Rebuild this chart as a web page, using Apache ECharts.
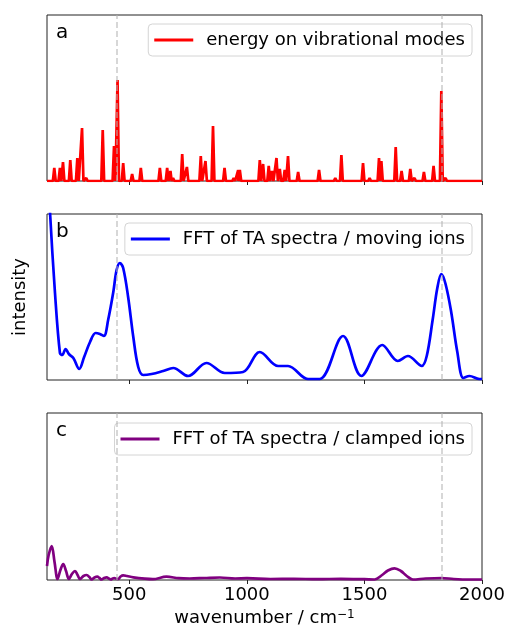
<!DOCTYPE html>
<html>
<head>
<meta charset="utf-8">
<script src="https://cdn.jsdelivr.net/npm/echarts@6/dist/echarts.min.js"></script>
<style>
  html, body { margin: 0; padding: 0; background: #fff; }
  #chart { width: 505px; height: 631px; }
</style>
</head>
<body>
<div id="chart"></div>
<script>
const xMin = 150;
const xMax = 2000;
const tickValues = [500, 1000, 1500, 2000];
const guideLines = [448, 1829];

// panel a: vibrational mode positions (cm-1) and heights
const modePos = [181, 205, 218, 249, 279, 299, 317, 387, 435, 450, 474, 512, 549,
  630, 661, 675, 686, 725, 745, 804, 824, 856, 905, 944, 963, 970,
  1055, 1069, 1093, 1107, 1126, 1140, 1161, 1175, 1218, 1307, 1376, 1402,
  1494, 1522, 1562, 1572, 1633, 1658, 1695, 1713, 1753, 1794, 1827, 1845];
const modeHeight = [13, 13, 19, 21, 23, 53, 3, 51, 35, 101, 18, 7, 13,
  13, 13, 10, 3, 27, 14, 25, 20, 55, 13, 3, 11, 11,
  21, 17, 15, 10, 23, 12, 11, 25, 9, 11, 3, 26,
  18, 3, 23, 20, 34, 10, 12, 3, 9, 15, 90, 3];

// panel b: FFT of TA spectra, moving ions
const movingX = [150, 163, 184, 205, 215, 229, 243, 262, 287, 308, 333, 357, 375, 392,
  410, 432, 446, 460, 474, 495, 517, 538, 559, 595, 644, 687, 750, 828, 906, 984,
  1055, 1133, 1175, 1260, 1310, 1409, 1487, 1576, 1642, 1685, 1744, 1765, 1790,
  1810, 1827, 1845, 1869, 1895, 1921, 1947, 1989, 2000];
const movingY = [230, 167, 87, 27, 25, 31, 26, 22, 11, 23, 38, 47, 46, 44,
  60, 88, 110, 117, 112, 83, 43, 13, 5, 6, 9, 12, 4, 17, 7, 8,
  28, 14, 14, 1, 1, 44, 4, 35, 19, 24, 14, 24, 60,
  92, 106, 96, 68, 28, 2, 4, 1, 1];

// panel c: FFT of TA spectra, clamped ions
const clampedX = [150, 157, 170, 182, 195, 207, 219, 231, 243, 256, 269, 280, 290, 305,
  319, 330, 340, 352, 364, 373, 382, 393, 404, 413, 422, 429, 436, 445, 453, 463,
  474, 490, 517, 566, 600, 658, 710, 757, 820, 885, 950, 1000, 1100, 1200, 1300,
  1400, 1500, 1543, 1575, 1600, 1628, 1655, 1680, 1706, 1760, 1829, 1880, 1950, 2000];
const clampedY = [14, 25, 34, 18, 1, 10, 16, 9, 1, 6, 9, 5, 1, 4,
  5, 3, 0.5, 2.5, 3.3, 2, 0.5, 2, 2.7, 1.5, 0.5, 1.5, 2, 1.2, 1, 3.5,
  4.7, 4, 2.7, 1.3, 0.8, 3.3, 1.8, 1.5, 2, 2.5, 1.5, 1.8, 1, 1.2, 0.8,
  1.2, 0.8, 0.5, 5, 9.5, 11.7, 9, 4, 0.5, 1.5, 2, 1, 0.5, 0.5];

const font = 'DejaVu Sans';

// each mode drawn as a narrow stick
function stickLine(pos, h) {
  const pts = [[xMin, 0]];
  pos.forEach((p, i) => {
    pts.push([p - 6, 0], [p, h[i]], [p + 6, 0]);
  });
  pts.push([xMax, 0]);
  pts.sort((a, b) => a[0] - b[0]);
  return pts;
}

function zip(xs, ys) {
  return xs.map((x, i) => [x, ys[i]]);
}

const chart = echarts.init(document.getElementById('chart'), null, { renderer: 'canvas' });

const gridTops = [15, 214, 413];
const gridHeights = [166, 166, 167];
const yMaxes = [166, 166, 167];
const names = ['energy on vibrational modes', 'FFT of TA spectra / moving ions', 'FFT of TA spectra / clamped ions'];
const colors = ['#ff0000', '#0000ff', '#800080'];
const seriesData = [stickLine(modePos, modeHeight), zip(movingX, movingY), zip(clampedX, clampedY)];
const legendTops = [24, 223, 423];
const panelLabels = ['a', 'b', 'c'];

const guideMark = {
  silent: true,
  symbol: ['none', 'none'],
  label: { show: false },
  lineStyle: { color: 'rgba(180,180,180,0.7)', type: [6, 3], width: 1.5 },
  data: guideLines.map(v => ({ xAxis: v }))
};

const option = {
  animation: false,
  backgroundColor: '#fff',
  textStyle: { fontFamily: font },
  grid: gridTops.map((t, i) => ({
    left: 47, right: 23, top: t, height: gridHeights[i],
    outerBoundsMode: 'none', containLabel: false,
    show: true, borderColor: '#222', borderWidth: 1, backgroundColor: 'transparent'
  })),
  xAxis: gridTops.map((t, i) => ({
    type: 'value', gridIndex: i, min: xMin, max: xMax,
    axisLine: { show: false },
    splitLine: { show: false },
    axisTick: { show: true, length: 4, customValues: tickValues, lineStyle: { color: '#222', width: 1 } },
    axisLabel: {
      show: i === 2, customValues: tickValues, margin: 6,
      formatter: v => String(v),
      fontFamily: font, fontSize: 18, color: '#000'
    },
    name: i === 2 ? 'wavenumber / cm{sup|\u22121}' : '',
    nameLocation: 'middle',
    nameGap: 29,
    nameTextStyle: {
      fontFamily: font, fontSize: 18, color: '#000',
      rich: { sup: { fontFamily: font, fontSize: 12, color: '#000', verticalAlign: 'top' } }
    }
  })),
  yAxis: gridTops.map((t, i) => ({
    type: 'value', gridIndex: i, min: 0, max: yMaxes[i], show: false
  })),
  legend: names.map((n, i) => ({
    data: [n],
    right: 33, top: legendTops[i],
    padding: [7, 7, 7, 6],
    icon: 'rect', itemWidth: 39, itemHeight: 3,
    borderColor: '#d4d4d4', borderWidth: 1, borderRadius: 4,
    backgroundColor: 'rgba(255,255,255,0.8)',
    selectedMode: false,
    textStyle: { fontFamily: font, fontSize: 18, color: '#000', padding: [0, 0, 0, 8] }
  })),
  series: names.map((n, i) => ({
    name: n, type: 'line', xAxisIndex: i, yAxisIndex: i,
    data: seriesData[i],
    showSymbol: false, symbol: 'none',
    smooth: i === 0 ? false : 0.35,
    clip: true,
    color: colors[i],
    lineStyle: { color: colors[i], width: 2.7 },
    markLine: guideMark
  })),
  graphic: panelLabels.map((t, i) => ({
    type: 'text', left: 56, top: gridTops[i] + 8,
    style: { text: t, font: '20px "' + font + '"', fill: '#000' }
  })).concat([{
    type: 'text', x: 20, y: 297, rotation: Math.PI / 2,
    style: { text: 'intensity', font: '18px "' + font + '"', fill: '#000', align: 'center', verticalAlign: 'middle' }
  }])
};

chart.setOption(option);
</script>
</body>
</html>
